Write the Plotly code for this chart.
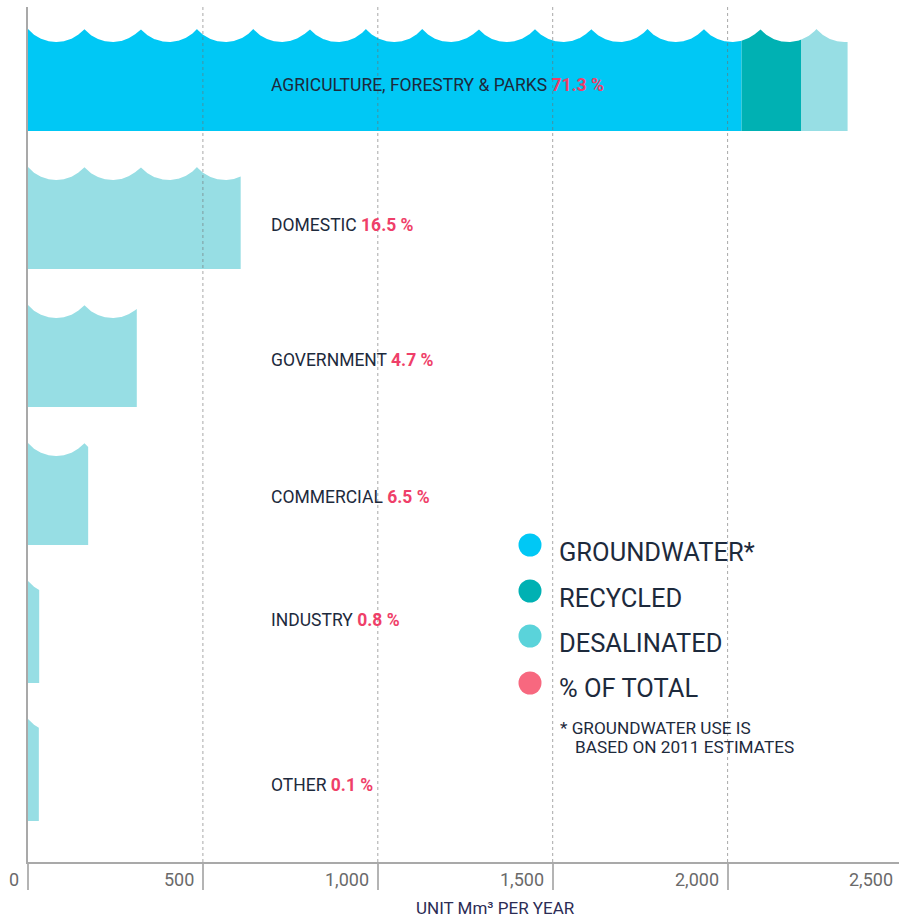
import numpy as np
import plotly.graph_objects as go

# ---- data (Mm3 per year) ----
categories = ["AGRICULTURE, FORESTRY & PARKS", "DOMESTIC", "GOVERNMENT",
              "COMMERCIAL", "INDUSTRY", "OTHER"]
groundwater = [2040, 0, 0, 0, 0, 0]
recycled = [171, 0, 0, 0, 0, 0]
desalinated = [132, 608, 311, 172, 32, 31]
share_labels = ["71.3 %", "16.5 %", "4.7 %", "6.5 %", "0.8 %", "0.1 %"]
tick_values = [0, 500, 1000, 1500, 2000, 2500]
tick_text = ["0", "500", "1,000", "1,500", "2,000", "2,500"]

# ---- styling ----
C_GROUND = "#00c8f5"
C_RECYC = "#00b1b3"
C_DESAL = "#97dee4"
C_DESAL_KEY = "#5ad3da"
C_PINK_KEY = "#f7687f"
C_PINK = "#ef3f69"
C_TEXT = "#1d2a3c"
C_AXIS = "#a9a9a9"
FONT = "Roboto, 'Open Sans', sans-serif"

W, H = 899, 920
ML, MR, MT, MB = 28, 0, 7, 58
PLOT_W = W - ML - MR
PLOT_H = H - MT - MB
PX_PER_UNIT = 174.9 / 500.0          # horizontal scale
XMAX = PLOT_W / PX_PER_UNIT

# vertical layout in pixel units measured up from the x axis
ROW_STEP = 138
ROW_BASE = 41
BODY_H = 89            # bottom to wave trough
WAVE_A = 13            # trough to crest
WAVE_P = 161           # wave period in data units


def wave_height(x):
    """Height of the scalloped top above the trough (circular arcs, cusps at k*P)."""
    half = WAVE_P * PX_PER_UNIT / 2.0
    r = (half ** 2 + WAVE_A ** 2) / (2 * WAVE_A)
    t = np.mod(x, WAVE_P) / WAVE_P
    dx = (t - 0.5) * 2 * half
    return r - np.sqrt(np.maximum(r ** 2 - dx ** 2, 0))


def segment(x0, x1, bottom):
    xs = np.arange(x0, x1, 0.5 / PX_PER_UNIT)
    cusps = np.arange(np.ceil(x0 / WAVE_P) * WAVE_P, x1, WAVE_P)
    xs = np.unique(np.concatenate([xs, cusps, cusps - 1e-6, [x1]]))
    top = bottom + BODY_H + wave_height(xs)
    px = list(xs) + [x1, x0]
    py = list(top) + [bottom, bottom]
    return px, py


fig = go.Figure()

for i, cat in enumerate(categories):
    bottom = ROW_BASE + ROW_STEP * (len(categories) - 1 - i)
    start = 0.0
    for val, col, name in ((groundwater[i], C_GROUND, "Groundwater"),
                           (recycled[i], C_RECYC, "Recycled"),
                           (desalinated[i], C_DESAL, "Desalinated")):
        if val <= 0:
            continue
        px, py = segment(start, start + val, bottom)
        fig.add_trace(go.Scatter(
            x=px, y=py, mode="lines", fill="toself", fillcolor=col,
            line=dict(width=0, color=col), hoverinfo="skip",
            showlegend=False, name=name))
        start += val

# category labels with their share of the total
LABEL_X = (269 - ML) / PX_PER_UNIT
label_centres = [777, 637, 502, 365, 242, 77]
for cat, share, yc in zip(categories, share_labels, label_centres):
    fig.add_annotation(
        x=LABEL_X, y=yc, xref="x", yref="y", xanchor="left", yanchor="middle",
        text=f"{cat} <b><span style='color:{C_PINK}'>{share}</span></b>",
        showarrow=False, font=dict(family=FONT, size=17.5, color=C_TEXT))

shapes = []
# dotted vertical gridlines drawn over the bars
for v in tick_values[1:]:
    if v < XMAX:
        shapes.append(dict(type="line", xref="x", yref="paper", x0=v, x1=v,
                           y0=0, y1=1, layer="above",
                           line=dict(color="rgba(110,110,110,0.6)", width=1, dash="dot")))

# tick labels (right-aligned left of each tick)
for v, t in zip(tick_values, tick_text):
    fig.add_annotation(
        x=v / XMAX, y=0, xref="paper", yref="paper", xanchor="right",
        yanchor="middle", xshift=-7, yshift=-17, text=t, showarrow=False,
        font=dict(family=FONT, size=18, color="#6a6a6a"))

fig.add_annotation(
    x=(495 - ML) / PLOT_W, y=0, xref="paper", yref="paper", xanchor="center",
    yanchor="middle", yshift=-46, text="UNIT Mm³ PER YEAR", showarrow=False,
    font=dict(family=FONT, size=17, color="#2c2c55"))


# key
def paper_x(px):
    return (px - ML) / PLOT_W


def paper_y(py):
    return (MT + PLOT_H - py) / PLOT_H


key_items = [("GROUNDWATER*", C_GROUND, 545, 552),
             ("RECYCLED", C_RECYC, 591, 598),
             ("DESALINATED", C_DESAL_KEY, 636, 643),
             ("% OF TOTAL", C_PINK_KEY, 683, 688)]
rad = 11.5
for label, col, cy, ty in key_items:
    shapes.append(dict(type="circle", xref="paper", yref="paper",
                       x0=paper_x(530 - rad), x1=paper_x(530 + rad),
                       y0=paper_y(cy + rad), y1=paper_y(cy - rad),
                       fillcolor=col, line=dict(width=0), layer="above"))
    fig.add_annotation(x=paper_x(557), y=paper_y(ty), xref="paper", yref="paper",
                       xanchor="left", yanchor="middle", text=label, showarrow=False,
                       font=dict(family=FONT, size=25.5, color=C_TEXT))

fig.add_annotation(x=paper_x(558), y=paper_y(728), xref="paper", yref="paper",
                   xanchor="left", yanchor="middle", text="* GROUNDWATER USE IS",
                   showarrow=False, font=dict(family=FONT, size=17.2, color=C_TEXT))
fig.add_annotation(x=paper_x(573), y=paper_y(747), xref="paper", yref="paper",
                   xanchor="left", yanchor="middle", text="BASED ON 2011 ESTIMATES",
                   showarrow=False, font=dict(family=FONT, size=17.2, color=C_TEXT))

fig.update_layout(
    width=W, height=H,
    margin=dict(l=ML, r=MR, t=MT, b=MB, pad=0),
    paper_bgcolor="white", plot_bgcolor="white",
    shapes=shapes,
    showlegend=False,
    xaxis=dict(range=[0, XMAX], tickvals=tick_values, showticklabels=False,
               showgrid=False, zeroline=False, showline=True,
               linecolor=C_AXIS, linewidth=1.5, layer="above traces",
               ticks="outside", ticklen=26, tickwidth=1.5, tickcolor="#b4b4b4",
               fixedrange=True),
    yaxis=dict(range=[0, PLOT_H], showticklabels=False, showgrid=False,
               zeroline=False, showline=True, linecolor=C_AXIS, linewidth=2,
               layer="above traces", ticks="", fixedrange=True),
)

fig.write_html("out.html")
